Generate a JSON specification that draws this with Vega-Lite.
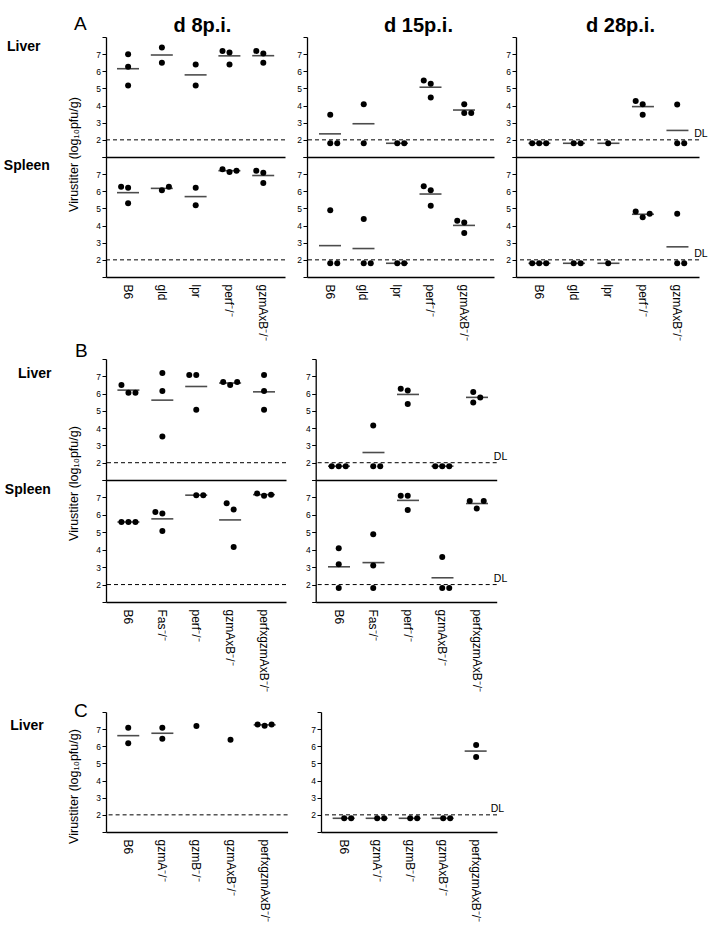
{
  "$schema": "https://vega.github.io/schema/vega-lite/v6.json",
  "padding": {"left": 3, "top": 14, "right": 2, "bottom": 2},
  "background": "#ffffff",
  "config": {
    "font": "Liberation Sans",
    "view": {"stroke": null},
    "title": {"color": "#000", "font": "Liberation Sans"},
    "axis": {"domainColor": "#000", "domainWidth": 1.3, "tickColor": "#000", "tickWidth": 1, "labelColor": "#000", "titleColor": "#000", "grid": false, "labelFont": "Liberation Sans", "titleFont": "Liberation Sans"},
    "axisX": {"ticks": false, "labelAngle": 90, "labelAlign": "left", "labelBaseline": "middle", "labelPadding": 7, "labelFontSize": 12, "labelLimit": 300},
    "axisY": {"tickSize": 4, "labelFontSize": 8.5, "labelPadding": 1.5}
  },
  "datasets": {
    "pts": [
      {"s":"A","d":8,"o":"L","g":"B6","v":7.0,"j":0},
      {"s":"A","d":8,"o":"L","g":"B6","v":6.27,"j":0},
      {"s":"A","d":8,"o":"L","g":"B6","v":5.17,"j":0},
      {"s":"A","d":8,"o":"L","g":"gld","v":7.39,"j":0},
      {"s":"A","d":8,"o":"L","g":"gld","v":6.5,"j":0},
      {"s":"A","d":8,"o":"L","g":"lpr","v":6.4,"j":0},
      {"s":"A","d":8,"o":"L","g":"lpr","v":5.17,"j":0},
      {"s":"A","d":8,"o":"L","g":"perf⁻/⁻","v":7.19,"j":-1},
      {"s":"A","d":8,"o":"L","g":"perf⁻/⁻","v":7.1,"j":0},
      {"s":"A","d":8,"o":"L","g":"perf⁻/⁻","v":6.4,"j":0},
      {"s":"A","d":8,"o":"L","g":"gzmAxB⁻/⁻","v":7.19,"j":-1},
      {"s":"A","d":8,"o":"L","g":"gzmAxB⁻/⁻","v":7.04,"j":0},
      {"s":"A","d":8,"o":"L","g":"gzmAxB⁻/⁻","v":6.5,"j":0},
      {"s":"A","d":8,"o":"S","g":"B6","v":6.27,"j":-1},
      {"s":"A","d":8,"o":"S","g":"B6","v":6.2,"j":0},
      {"s":"A","d":8,"o":"S","g":"B6","v":5.3,"j":0},
      {"s":"A","d":8,"o":"S","g":"gld","v":6.06,"j":0},
      {"s":"A","d":8,"o":"S","g":"gld","v":6.27,"j":1},
      {"s":"A","d":8,"o":"S","g":"lpr","v":6.2,"j":0},
      {"s":"A","d":8,"o":"S","g":"lpr","v":5.18,"j":0},
      {"s":"A","d":8,"o":"S","g":"perf⁻/⁻","v":7.29,"j":-1},
      {"s":"A","d":8,"o":"S","g":"perf⁻/⁻","v":7.12,"j":0},
      {"s":"A","d":8,"o":"S","g":"perf⁻/⁻","v":7.2,"j":1},
      {"s":"A","d":8,"o":"S","g":"gzmAxB⁻/⁻","v":7.2,"j":-1},
      {"s":"A","d":8,"o":"S","g":"gzmAxB⁻/⁻","v":7.08,"j":0},
      {"s":"A","d":8,"o":"S","g":"gzmAxB⁻/⁻","v":6.49,"j":0},
      {"s":"A","d":15,"o":"L","g":"B6","v":3.46,"j":0},
      {"s":"A","d":15,"o":"L","g":"B6","v":1.8,"j":0},
      {"s":"A","d":15,"o":"L","g":"B6","v":1.8,"j":1},
      {"s":"A","d":15,"o":"L","g":"gld","v":4.08,"j":0},
      {"s":"A","d":15,"o":"L","g":"gld","v":1.8,"j":0},
      {"s":"A","d":15,"o":"L","g":"lpr","v":1.8,"j":0},
      {"s":"A","d":15,"o":"L","g":"lpr","v":1.8,"j":1},
      {"s":"A","d":15,"o":"L","g":"perf⁻/⁻","v":5.46,"j":-1},
      {"s":"A","d":15,"o":"L","g":"perf⁻/⁻","v":5.27,"j":0},
      {"s":"A","d":15,"o":"L","g":"perf⁻/⁻","v":4.47,"j":0},
      {"s":"A","d":15,"o":"L","g":"gzmAxB⁻/⁻","v":4.08,"j":0},
      {"s":"A","d":15,"o":"L","g":"gzmAxB⁻/⁻","v":3.57,"j":0},
      {"s":"A","d":15,"o":"L","g":"gzmAxB⁻/⁻","v":3.57,"j":1},
      {"s":"A","d":15,"o":"S","g":"B6","v":4.89,"j":0},
      {"s":"A","d":15,"o":"S","g":"B6","v":1.8,"j":0},
      {"s":"A","d":15,"o":"S","g":"B6","v":1.8,"j":1},
      {"s":"A","d":15,"o":"S","g":"gld","v":4.39,"j":0},
      {"s":"A","d":15,"o":"S","g":"gld","v":1.8,"j":0},
      {"s":"A","d":15,"o":"S","g":"gld","v":1.8,"j":1},
      {"s":"A","d":15,"o":"S","g":"lpr","v":1.8,"j":0},
      {"s":"A","d":15,"o":"S","g":"lpr","v":1.8,"j":1},
      {"s":"A","d":15,"o":"S","g":"perf⁻/⁻","v":6.29,"j":-1},
      {"s":"A","d":15,"o":"S","g":"perf⁻/⁻","v":6.06,"j":0},
      {"s":"A","d":15,"o":"S","g":"perf⁻/⁻","v":5.16,"j":0},
      {"s":"A","d":15,"o":"S","g":"gzmAxB⁻/⁻","v":4.28,"j":-1},
      {"s":"A","d":15,"o":"S","g":"gzmAxB⁻/⁻","v":4.18,"j":0},
      {"s":"A","d":15,"o":"S","g":"gzmAxB⁻/⁻","v":3.57,"j":0},
      {"s":"A","d":28,"o":"L","g":"B6","v":1.8,"j":-1},
      {"s":"A","d":28,"o":"L","g":"B6","v":1.8,"j":0},
      {"s":"A","d":28,"o":"L","g":"B6","v":1.8,"j":1},
      {"s":"A","d":28,"o":"L","g":"gld","v":1.8,"j":0},
      {"s":"A","d":28,"o":"L","g":"gld","v":1.8,"j":1},
      {"s":"A","d":28,"o":"L","g":"lpr","v":1.8,"j":0},
      {"s":"A","d":28,"o":"L","g":"perf⁻/⁻","v":4.27,"j":-1},
      {"s":"A","d":28,"o":"L","g":"perf⁻/⁻","v":4.08,"j":0},
      {"s":"A","d":28,"o":"L","g":"perf⁻/⁻","v":3.47,"j":0},
      {"s":"A","d":28,"o":"L","g":"gzmAxB⁻/⁻","v":4.06,"j":0},
      {"s":"A","d":28,"o":"L","g":"gzmAxB⁻/⁻","v":1.8,"j":0},
      {"s":"A","d":28,"o":"L","g":"gzmAxB⁻/⁻","v":1.8,"j":1},
      {"s":"A","d":28,"o":"S","g":"B6","v":1.8,"j":-1},
      {"s":"A","d":28,"o":"S","g":"B6","v":1.8,"j":0},
      {"s":"A","d":28,"o":"S","g":"B6","v":1.8,"j":1},
      {"s":"A","d":28,"o":"S","g":"gld","v":1.8,"j":0},
      {"s":"A","d":28,"o":"S","g":"gld","v":1.8,"j":1},
      {"s":"A","d":28,"o":"S","g":"lpr","v":1.8,"j":0},
      {"s":"A","d":28,"o":"S","g":"perf⁻/⁻","v":4.82,"j":-1},
      {"s":"A","d":28,"o":"S","g":"perf⁻/⁻","v":4.48,"j":0},
      {"s":"A","d":28,"o":"S","g":"perf⁻/⁻","v":4.69,"j":1},
      {"s":"A","d":28,"o":"S","g":"gzmAxB⁻/⁻","v":4.69,"j":0},
      {"s":"A","d":28,"o":"S","g":"gzmAxB⁻/⁻","v":1.8,"j":0},
      {"s":"A","d":28,"o":"S","g":"gzmAxB⁻/⁻","v":1.8,"j":1},
      {"s":"B","d":8,"o":"L","g":"B6","v":6.5,"j":-1},
      {"s":"B","d":8,"o":"L","g":"B6","v":6.05,"j":0},
      {"s":"B","d":8,"o":"L","g":"B6","v":6.05,"j":1},
      {"s":"B","d":8,"o":"L","g":"Fas⁻/⁻","v":7.19,"j":0},
      {"s":"B","d":8,"o":"L","g":"Fas⁻/⁻","v":6.15,"j":0},
      {"s":"B","d":8,"o":"L","g":"Fas⁻/⁻","v":3.51,"j":0},
      {"s":"B","d":8,"o":"L","g":"perf⁻/⁻","v":7.08,"j":-1},
      {"s":"B","d":8,"o":"L","g":"perf⁻/⁻","v":7.08,"j":0},
      {"s":"B","d":8,"o":"L","g":"perf⁻/⁻","v":5.07,"j":0},
      {"s":"B","d":8,"o":"L","g":"gzmAxB⁻/⁻","v":6.67,"j":-1},
      {"s":"B","d":8,"o":"L","g":"gzmAxB⁻/⁻","v":6.5,"j":0},
      {"s":"B","d":8,"o":"L","g":"gzmAxB⁻/⁻","v":6.67,"j":1},
      {"s":"B","d":8,"o":"L","g":"perfxgzmAxB⁻/⁻","v":7.08,"j":0},
      {"s":"B","d":8,"o":"L","g":"perfxgzmAxB⁻/⁻","v":6.15,"j":0},
      {"s":"B","d":8,"o":"L","g":"perfxgzmAxB⁻/⁻","v":5.07,"j":0},
      {"s":"B","d":8,"o":"S","g":"B6","v":5.59,"j":-1},
      {"s":"B","d":8,"o":"S","g":"B6","v":5.59,"j":0},
      {"s":"B","d":8,"o":"S","g":"B6","v":5.59,"j":1},
      {"s":"B","d":8,"o":"S","g":"Fas⁻/⁻","v":6.16,"j":-1},
      {"s":"B","d":8,"o":"S","g":"Fas⁻/⁻","v":6.08,"j":0},
      {"s":"B","d":8,"o":"S","g":"Fas⁻/⁻","v":5.07,"j":0},
      {"s":"B","d":8,"o":"S","g":"perf⁻/⁻","v":7.13,"j":0},
      {"s":"B","d":8,"o":"S","g":"perf⁻/⁻","v":7.13,"j":1},
      {"s":"B","d":8,"o":"S","g":"gzmAxB⁻/⁻","v":6.66,"j":-0.5},
      {"s":"B","d":8,"o":"S","g":"gzmAxB⁻/⁻","v":6.31,"j":0.5},
      {"s":"B","d":8,"o":"S","g":"gzmAxB⁻/⁻","v":4.16,"j":0.5},
      {"s":"B","d":8,"o":"S","g":"perfxgzmAxB⁻/⁻","v":7.23,"j":-1},
      {"s":"B","d":8,"o":"S","g":"perfxgzmAxB⁻/⁻","v":7.1,"j":0},
      {"s":"B","d":8,"o":"S","g":"perfxgzmAxB⁻/⁻","v":7.15,"j":1},
      {"s":"B","d":15,"o":"L","g":"B6","v":1.8,"j":-1},
      {"s":"B","d":15,"o":"L","g":"B6","v":1.8,"j":0},
      {"s":"B","d":15,"o":"L","g":"B6","v":1.8,"j":1},
      {"s":"B","d":15,"o":"L","g":"Fas⁻/⁻","v":4.16,"j":0},
      {"s":"B","d":15,"o":"L","g":"Fas⁻/⁻","v":1.8,"j":0},
      {"s":"B","d":15,"o":"L","g":"Fas⁻/⁻","v":1.8,"j":1},
      {"s":"B","d":15,"o":"L","g":"perf⁻/⁻","v":6.28,"j":-1},
      {"s":"B","d":15,"o":"L","g":"perf⁻/⁻","v":6.18,"j":0},
      {"s":"B","d":15,"o":"L","g":"perf⁻/⁻","v":5.39,"j":0},
      {"s":"B","d":15,"o":"L","g":"gzmAxB⁻/⁻","v":1.8,"j":-1},
      {"s":"B","d":15,"o":"L","g":"gzmAxB⁻/⁻","v":1.8,"j":0},
      {"s":"B","d":15,"o":"L","g":"gzmAxB⁻/⁻","v":1.8,"j":1},
      {"s":"B","d":15,"o":"L","g":"perfxgzmAxB⁻/⁻","v":6.09,"j":-0.5},
      {"s":"B","d":15,"o":"L","g":"perfxgzmAxB⁻/⁻","v":5.48,"j":-0.5},
      {"s":"B","d":15,"o":"L","g":"perfxgzmAxB⁻/⁻","v":5.77,"j":0.5},
      {"s":"B","d":15,"o":"S","g":"B6","v":4.09,"j":0},
      {"s":"B","d":15,"o":"S","g":"B6","v":3.17,"j":0},
      {"s":"B","d":15,"o":"S","g":"B6","v":1.8,"j":0},
      {"s":"B","d":15,"o":"S","g":"Fas⁻/⁻","v":4.89,"j":0},
      {"s":"B","d":15,"o":"S","g":"Fas⁻/⁻","v":3.1,"j":0},
      {"s":"B","d":15,"o":"S","g":"Fas⁻/⁻","v":1.8,"j":0},
      {"s":"B","d":15,"o":"S","g":"perf⁻/⁻","v":7.1,"j":-1},
      {"s":"B","d":15,"o":"S","g":"perf⁻/⁻","v":7.1,"j":0},
      {"s":"B","d":15,"o":"S","g":"perf⁻/⁻","v":6.28,"j":0},
      {"s":"B","d":15,"o":"S","g":"gzmAxB⁻/⁻","v":3.58,"j":0},
      {"s":"B","d":15,"o":"S","g":"gzmAxB⁻/⁻","v":1.8,"j":0},
      {"s":"B","d":15,"o":"S","g":"gzmAxB⁻/⁻","v":1.8,"j":1},
      {"s":"B","d":15,"o":"S","g":"perfxgzmAxB⁻/⁻","v":6.79,"j":-1},
      {"s":"B","d":15,"o":"S","g":"perfxgzmAxB⁻/⁻","v":6.37,"j":0},
      {"s":"B","d":15,"o":"S","g":"perfxgzmAxB⁻/⁻","v":6.79,"j":1},
      {"s":"C","d":8,"o":"L","g":"B6","v":7.08,"j":0},
      {"s":"C","d":8,"o":"L","g":"B6","v":6.17,"j":0},
      {"s":"C","d":8,"o":"L","g":"gzmA⁻/⁻","v":7.08,"j":0},
      {"s":"C","d":8,"o":"L","g":"gzmA⁻/⁻","v":6.44,"j":0},
      {"s":"C","d":8,"o":"L","g":"gzmB⁻/⁻","v":7.19,"j":0},
      {"s":"C","d":8,"o":"L","g":"gzmAxB⁻/⁻","v":6.38,"j":0},
      {"s":"C","d":8,"o":"L","g":"perfxgzmAxB⁻/⁻","v":7.27,"j":-1},
      {"s":"C","d":8,"o":"L","g":"perfxgzmAxB⁻/⁻","v":7.2,"j":0},
      {"s":"C","d":8,"o":"L","g":"perfxgzmAxB⁻/⁻","v":7.27,"j":1},
      {"s":"C","d":15,"o":"L","g":"B6","v":1.8,"j":0},
      {"s":"C","d":15,"o":"L","g":"B6","v":1.8,"j":1},
      {"s":"C","d":15,"o":"L","g":"gzmA⁻/⁻","v":1.8,"j":0},
      {"s":"C","d":15,"o":"L","g":"gzmA⁻/⁻","v":1.8,"j":1},
      {"s":"C","d":15,"o":"L","g":"gzmB⁻/⁻","v":1.8,"j":0},
      {"s":"C","d":15,"o":"L","g":"gzmB⁻/⁻","v":1.8,"j":1},
      {"s":"C","d":15,"o":"L","g":"gzmAxB⁻/⁻","v":1.8,"j":0},
      {"s":"C","d":15,"o":"L","g":"gzmAxB⁻/⁻","v":1.8,"j":1},
      {"s":"C","d":15,"o":"L","g":"perfxgzmAxB⁻/⁻","v":6.07,"j":0},
      {"s":"C","d":15,"o":"L","g":"perfxgzmAxB⁻/⁻","v":5.37,"j":0}
    ],
    "means": [
      {"s":"A","d":8,"o":"L","g":"B6","v":6.15},
      {"s":"A","d":8,"o":"L","g":"gld","v":6.95},
      {"s":"A","d":8,"o":"L","g":"lpr","v":5.79},
      {"s":"A","d":8,"o":"L","g":"perf⁻/⁻","v":6.9},
      {"s":"A","d":8,"o":"L","g":"gzmAxB⁻/⁻","v":6.91},
      {"s":"A","d":8,"o":"S","g":"B6","v":5.92},
      {"s":"A","d":8,"o":"S","g":"gld","v":6.17},
      {"s":"A","d":8,"o":"S","g":"lpr","v":5.69},
      {"s":"A","d":8,"o":"S","g":"perf⁻/⁻","v":7.2},
      {"s":"A","d":8,"o":"S","g":"gzmAxB⁻/⁻","v":6.92},
      {"s":"A","d":15,"o":"L","g":"B6","v":2.35},
      {"s":"A","d":15,"o":"L","g":"gld","v":2.94},
      {"s":"A","d":15,"o":"L","g":"lpr","v":1.8},
      {"s":"A","d":15,"o":"L","g":"perf⁻/⁻","v":5.07},
      {"s":"A","d":15,"o":"L","g":"gzmAxB⁻/⁻","v":3.74},
      {"s":"A","d":15,"o":"S","g":"B6","v":2.83},
      {"s":"A","d":15,"o":"S","g":"gld","v":2.66},
      {"s":"A","d":15,"o":"S","g":"lpr","v":1.8},
      {"s":"A","d":15,"o":"S","g":"perf⁻/⁻","v":5.84},
      {"s":"A","d":15,"o":"S","g":"gzmAxB⁻/⁻","v":4.01},
      {"s":"A","d":28,"o":"L","g":"B6","v":1.8},
      {"s":"A","d":28,"o":"L","g":"gld","v":1.8},
      {"s":"A","d":28,"o":"L","g":"lpr","v":1.8},
      {"s":"A","d":28,"o":"L","g":"perf⁻/⁻","v":3.94},
      {"s":"A","d":28,"o":"L","g":"gzmAxB⁻/⁻","v":2.55},
      {"s":"A","d":28,"o":"S","g":"B6","v":1.8},
      {"s":"A","d":28,"o":"S","g":"gld","v":1.8},
      {"s":"A","d":28,"o":"S","g":"lpr","v":1.8},
      {"s":"A","d":28,"o":"S","g":"perf⁻/⁻","v":4.66},
      {"s":"A","d":28,"o":"S","g":"gzmAxB⁻/⁻","v":2.76},
      {"s":"B","d":8,"o":"L","g":"B6","v":6.2},
      {"s":"B","d":8,"o":"L","g":"Fas⁻/⁻","v":5.62},
      {"s":"B","d":8,"o":"L","g":"perf⁻/⁻","v":6.41},
      {"s":"B","d":8,"o":"L","g":"gzmAxB⁻/⁻","v":6.61},
      {"s":"B","d":8,"o":"L","g":"perfxgzmAxB⁻/⁻","v":6.1},
      {"s":"B","d":8,"o":"S","g":"B6","v":5.59},
      {"s":"B","d":8,"o":"S","g":"Fas⁻/⁻","v":5.77},
      {"s":"B","d":8,"o":"S","g":"perf⁻/⁻","v":7.13},
      {"s":"B","d":8,"o":"S","g":"gzmAxB⁻/⁻","v":5.71},
      {"s":"B","d":8,"o":"S","g":"perfxgzmAxB⁻/⁻","v":7.16},
      {"s":"B","d":15,"o":"L","g":"B6","v":1.8},
      {"s":"B","d":15,"o":"L","g":"Fas⁻/⁻","v":2.59},
      {"s":"B","d":15,"o":"L","g":"perf⁻/⁻","v":5.95},
      {"s":"B","d":15,"o":"L","g":"gzmAxB⁻/⁻","v":1.8},
      {"s":"B","d":15,"o":"L","g":"perfxgzmAxB⁻/⁻","v":5.78},
      {"s":"B","d":15,"o":"S","g":"B6","v":3.02},
      {"s":"B","d":15,"o":"S","g":"Fas⁻/⁻","v":3.26},
      {"s":"B","d":15,"o":"S","g":"perf⁻/⁻","v":6.83},
      {"s":"B","d":15,"o":"S","g":"gzmAxB⁻/⁻","v":2.39},
      {"s":"B","d":15,"o":"S","g":"perfxgzmAxB⁻/⁻","v":6.65},
      {"s":"C","d":8,"o":"L","g":"B6","v":6.62},
      {"s":"C","d":8,"o":"L","g":"gzmA⁻/⁻","v":6.76},
      {"s":"C","d":8,"o":"L","g":"perfxgzmAxB⁻/⁻","v":7.25},
      {"s":"C","d":15,"o":"L","g":"B6","v":1.8},
      {"s":"C","d":15,"o":"L","g":"gzmA⁻/⁻","v":1.8},
      {"s":"C","d":15,"o":"L","g":"gzmB⁻/⁻","v":1.8},
      {"s":"C","d":15,"o":"L","g":"gzmAxB⁻/⁻","v":1.8},
      {"s":"C","d":15,"o":"L","g":"perfxgzmAxB⁻/⁻","v":5.72}
    ],
    "dl": [
      {"s":"A","d":8,"o":"L","g":"gzmAxB⁻/⁻","v":2},
      {"s":"A","d":8,"o":"S","g":"gzmAxB⁻/⁻","v":2},
      {"s":"A","d":15,"o":"L","g":"gzmAxB⁻/⁻","v":2},
      {"s":"A","d":15,"o":"S","g":"gzmAxB⁻/⁻","v":2},
      {"s":"A","d":28,"o":"L","g":"gzmAxB⁻/⁻","v":2},
      {"s":"A","d":28,"o":"S","g":"gzmAxB⁻/⁻","v":2},
      {"s":"B","d":8,"o":"L","g":"perfxgzmAxB⁻/⁻","v":2},
      {"s":"B","d":8,"o":"S","g":"perfxgzmAxB⁻/⁻","v":2},
      {"s":"B","d":15,"o":"L","g":"perfxgzmAxB⁻/⁻","v":2},
      {"s":"B","d":15,"o":"S","g":"perfxgzmAxB⁻/⁻","v":2},
      {"s":"C","d":8,"o":"L","g":"perfxgzmAxB⁻/⁻","v":2},
      {"s":"C","d":15,"o":"L","g":"perfxgzmAxB⁻/⁻","v":2}
    ]
  },
  "vconcat": [
    {
      "title": {"text": "A", "anchor": "start", "frame": "group", "fontSize": 19, "fontWeight": "normal", "offset": 0, "dx": -32, "dy": 18},
      "columns": 3,
      "spacing": {"row": 0, "column": 22},
      "bounds": "flush",
      "align": "each",
      "concat": [
        {
          "width": 179, "height": 120,
          "title": {"text": "d 8p.i.", "fontSize": 20, "fontWeight": "bold", "anchor": "middle", "frame": "group", "dx": 7, "offset": 1},
          "encoding": {"y": {"field": "v", "type": "quantitative", "scale": {"domain": [1, 8], "nice": false, "zero": false}, "axis": {"values": [1,2,3,4,5,6,7,8], "labelExpr": "datum.value>=2&&datum.value<=7?datum.label:''", "title": "Liver", "titleAngle": 0, "titleAlign": "right", "titleBaseline": "top", "titleX": -66, "titleY": 2.5, "titleFontSize": 14, "titleFontWeight": "bold"}}},
          "layer": [
            {"data": {"name": "dl"}, "transform": [{"filter": "datum.s=='A'&&datum.d==8&&datum.o=='L'"}], "mark": {"type": "rule", "strokeDash": [4, 3], "strokeWidth": 1, "color": "#000"}, "encoding": {}},
            {"data": {"name": "means"}, "transform": [{"filter": "datum.s=='A'&&datum.d==8&&datum.o=='L'"}], "mark": {"type": "tick", "orient": "horizontal", "size": 22, "thickness": 1.6, "color": "#000"}, "encoding": {"x": {"field": "g", "type": "nominal", "scale": {"type": "band", "domain": ["B6","gld","lpr","perf⁻/⁻","gzmAxB⁻/⁻"], "paddingInner": 0, "paddingOuter": 0.148, "align": 0.51}, "axis": {"labels": false, "title": null}}}},
            {"data": {"name": "pts"}, "transform": [{"filter": "datum.s=='A'&&datum.d==8&&datum.o=='L'"}], "mark": {"type": "circle", "size": 36, "color": "#000", "opacity": 1}, "encoding": {"x": {"field": "g", "type": "nominal", "scale": {"type": "band", "domain": ["B6","gld","lpr","perf⁻/⁻","gzmAxB⁻/⁻"], "paddingInner": 0, "paddingOuter": 0.148, "align": 0.51}, "axis": {"labels": false, "title": null}}, "xOffset": {"field": "j", "type": "quantitative", "scale": {"domain": [-1, 1], "range": [10, 24]}}}}
          ]
        },
        {
          "width": 187, "height": 120,
          "title": {"text": "d 15p.i.", "fontSize": 20, "fontWeight": "bold", "anchor": "middle", "frame": "group", "dx": 18, "offset": 1},
          "encoding": {"y": {"field": "v", "type": "quantitative", "scale": {"domain": [1, 8], "nice": false, "zero": false}, "axis": {"values": [1,2,3,4,5,6,7,8], "labelExpr": "datum.value>=2&&datum.value<=7?datum.label:''", "title": null}}},
          "layer": [
            {"data": {"name": "dl"}, "transform": [{"filter": "datum.s=='A'&&datum.d==15&&datum.o=='L'"}], "mark": {"type": "rule", "strokeDash": [4, 3], "strokeWidth": 1, "color": "#000"}, "encoding": {}},
            {"data": {"name": "means"}, "transform": [{"filter": "datum.s=='A'&&datum.d==15&&datum.o=='L'"}], "mark": {"type": "tick", "orient": "horizontal", "size": 22, "thickness": 1.6, "color": "#000"}, "encoding": {"x": {"field": "g", "type": "nominal", "scale": {"type": "band", "domain": ["B6","gld","lpr","perf⁻/⁻","gzmAxB⁻/⁻"], "paddingInner": 0, "paddingOuter": 0.291, "align": 0.32}, "axis": {"labels": false, "title": null}}}},
            {"data": {"name": "pts"}, "transform": [{"filter": "datum.s=='A'&&datum.d==15&&datum.o=='L'"}], "mark": {"type": "circle", "size": 36, "color": "#000", "opacity": 1}, "encoding": {"x": {"field": "g", "type": "nominal", "scale": {"type": "band", "domain": ["B6","gld","lpr","perf⁻/⁻","gzmAxB⁻/⁻"], "paddingInner": 0, "paddingOuter": 0.291, "align": 0.32}, "axis": {"labels": false, "title": null}}, "xOffset": {"field": "j", "type": "quantitative", "scale": {"domain": [-1, 1], "range": [10, 24]}}}}
          ]
        },
        {
          "width": 183, "height": 120,
          "title": {"text": "d 28p.i.", "fontSize": 20, "fontWeight": "bold", "anchor": "middle", "frame": "group", "dx": 13, "offset": 1},
          "encoding": {"y": {"field": "v", "type": "quantitative", "scale": {"domain": [1, 8], "nice": false, "zero": false}, "axis": {"values": [1,2,3,4,5,6,7,8], "labelExpr": "datum.value>=2&&datum.value<=7?datum.label:''", "title": null}}},
          "layer": [
            {"data": {"name": "dl"}, "transform": [{"filter": "datum.s=='A'&&datum.d==28&&datum.o=='L'"}], "mark": {"type": "rule", "strokeDash": [4, 3], "strokeWidth": 1, "color": "#000"}, "encoding": {}},
            {"data": {"name": "dl"}, "transform": [{"filter": "datum.s=='A'&&datum.d==28&&datum.o=='L'"}], "mark": {"type": "text", "align": "right", "baseline": "bottom", "dx": 13, "dy": -0.5, "fontSize": 10.5, "color": "#000"}, "encoding": {"text": {"value": "DL"}, "x": {"field": "g", "type": "nominal", "bandPosition": 1, "scale": {"type": "band", "domain": ["B6","gld","lpr","perf⁻/⁻","gzmAxB⁻/⁻"], "paddingInner": 0, "paddingOuter": 0.152, "align": 0.59}, "axis": {"labels": false, "title": null}}}},
            {"data": {"name": "means"}, "transform": [{"filter": "datum.s=='A'&&datum.d==28&&datum.o=='L'"}], "mark": {"type": "tick", "orient": "horizontal", "size": 22, "thickness": 1.6, "color": "#000"}, "encoding": {"x": {"field": "g", "type": "nominal", "scale": {"type": "band", "domain": ["B6","gld","lpr","perf⁻/⁻","gzmAxB⁻/⁻"], "paddingInner": 0, "paddingOuter": 0.152, "align": 0.59}, "axis": {"labels": false, "title": null}}}},
            {"data": {"name": "pts"}, "transform": [{"filter": "datum.s=='A'&&datum.d==28&&datum.o=='L'"}], "mark": {"type": "circle", "size": 36, "color": "#000", "opacity": 1}, "encoding": {"x": {"field": "g", "type": "nominal", "scale": {"type": "band", "domain": ["B6","gld","lpr","perf⁻/⁻","gzmAxB⁻/⁻"], "paddingInner": 0, "paddingOuter": 0.152, "align": 0.59}, "axis": {"labels": false, "title": null}}, "xOffset": {"field": "j", "type": "quantitative", "scale": {"domain": [-1, 1], "range": [10, 24]}}}}
          ]
        },
        {
          "width": 179, "height": 120,
          "title": {"text": "Spleen", "orient": "left", "anchor": "end", "frame": "group", "angle": 0, "align": "left", "baseline": "top", "fontSize": 14, "fontWeight": "bold", "offset": 18, "dy": 1.5},
          "encoding": {"y": {"field": "v", "type": "quantitative", "scale": {"domain": [1, 8], "nice": false, "zero": false}, "axis": {"values": [1,2,3,4,5,6,7,8], "labelExpr": "datum.value>=2&&datum.value<=7?datum.label:''", "title": "Virustiter (log₁₀pfu/g)", "titleFontSize": 12.5, "titleFontWeight": "normal", "titlePadding": 15, "titleY": -3}}},
          "layer": [
            {"data": {"name": "dl"}, "transform": [{"filter": "datum.s=='A'&&datum.d==8&&datum.o=='S'"}], "mark": {"type": "rule", "strokeDash": [4, 3], "strokeWidth": 1, "color": "#000"}, "encoding": {}},
            {"data": {"name": "means"}, "transform": [{"filter": "datum.s=='A'&&datum.d==8&&datum.o=='S'"}], "mark": {"type": "tick", "orient": "horizontal", "size": 22, "thickness": 1.6, "color": "#000"}, "encoding": {"x": {"field": "g", "type": "nominal", "scale": {"type": "band", "domain": ["B6","gld","lpr","perf⁻/⁻","gzmAxB⁻/⁻"], "paddingInner": 0, "paddingOuter": 0.148, "align": 0.51}, "axis": {"title": null}}}},
            {"data": {"name": "pts"}, "transform": [{"filter": "datum.s=='A'&&datum.d==8&&datum.o=='S'"}], "mark": {"type": "circle", "size": 36, "color": "#000", "opacity": 1}, "encoding": {"x": {"field": "g", "type": "nominal", "scale": {"type": "band", "domain": ["B6","gld","lpr","perf⁻/⁻","gzmAxB⁻/⁻"], "paddingInner": 0, "paddingOuter": 0.148, "align": 0.51}, "axis": {"title": null}}, "xOffset": {"field": "j", "type": "quantitative", "scale": {"domain": [-1, 1], "range": [10, 24]}}}}
          ]
        },
        {
          "width": 187, "height": 120,
          "encoding": {"y": {"field": "v", "type": "quantitative", "scale": {"domain": [1, 8], "nice": false, "zero": false}, "axis": {"values": [1,2,3,4,5,6,7,8], "labelExpr": "datum.value>=2&&datum.value<=7?datum.label:''", "title": null}}},
          "layer": [
            {"data": {"name": "dl"}, "transform": [{"filter": "datum.s=='A'&&datum.d==15&&datum.o=='S'"}], "mark": {"type": "rule", "strokeDash": [4, 3], "strokeWidth": 1, "color": "#000"}, "encoding": {}},
            {"data": {"name": "means"}, "transform": [{"filter": "datum.s=='A'&&datum.d==15&&datum.o=='S'"}], "mark": {"type": "tick", "orient": "horizontal", "size": 22, "thickness": 1.6, "color": "#000"}, "encoding": {"x": {"field": "g", "type": "nominal", "scale": {"type": "band", "domain": ["B6","gld","lpr","perf⁻/⁻","gzmAxB⁻/⁻"], "paddingInner": 0, "paddingOuter": 0.291, "align": 0.32}, "axis": {"title": null}}}},
            {"data": {"name": "pts"}, "transform": [{"filter": "datum.s=='A'&&datum.d==15&&datum.o=='S'"}], "mark": {"type": "circle", "size": 36, "color": "#000", "opacity": 1}, "encoding": {"x": {"field": "g", "type": "nominal", "scale": {"type": "band", "domain": ["B6","gld","lpr","perf⁻/⁻","gzmAxB⁻/⁻"], "paddingInner": 0, "paddingOuter": 0.291, "align": 0.32}, "axis": {"title": null}}, "xOffset": {"field": "j", "type": "quantitative", "scale": {"domain": [-1, 1], "range": [10, 24]}}}}
          ]
        },
        {
          "width": 183, "height": 120,
          "encoding": {"y": {"field": "v", "type": "quantitative", "scale": {"domain": [1, 8], "nice": false, "zero": false}, "axis": {"values": [1,2,3,4,5,6,7,8], "labelExpr": "datum.value>=2&&datum.value<=7?datum.label:''", "title": null}}},
          "layer": [
            {"data": {"name": "dl"}, "transform": [{"filter": "datum.s=='A'&&datum.d==28&&datum.o=='S'"}], "mark": {"type": "rule", "strokeDash": [4, 3], "strokeWidth": 1, "color": "#000"}, "encoding": {}},
            {"data": {"name": "dl"}, "transform": [{"filter": "datum.s=='A'&&datum.d==28&&datum.o=='S'"}], "mark": {"type": "text", "align": "right", "baseline": "bottom", "dx": 13, "dy": -0.5, "fontSize": 10.5, "color": "#000"}, "encoding": {"text": {"value": "DL"}, "x": {"field": "g", "type": "nominal", "bandPosition": 1, "scale": {"type": "band", "domain": ["B6","gld","lpr","perf⁻/⁻","gzmAxB⁻/⁻"], "paddingInner": 0, "paddingOuter": 0.152, "align": 0.59}, "axis": {"title": null}}}},
            {"data": {"name": "means"}, "transform": [{"filter": "datum.s=='A'&&datum.d==28&&datum.o=='S'"}], "mark": {"type": "tick", "orient": "horizontal", "size": 22, "thickness": 1.6, "color": "#000"}, "encoding": {"x": {"field": "g", "type": "nominal", "scale": {"type": "band", "domain": ["B6","gld","lpr","perf⁻/⁻","gzmAxB⁻/⁻"], "paddingInner": 0, "paddingOuter": 0.152, "align": 0.59}, "axis": {"title": null}}}},
            {"data": {"name": "pts"}, "transform": [{"filter": "datum.s=='A'&&datum.d==28&&datum.o=='S'"}], "mark": {"type": "circle", "size": 36, "color": "#000", "opacity": 1}, "encoding": {"x": {"field": "g", "type": "nominal", "scale": {"type": "band", "domain": ["B6","gld","lpr","perf⁻/⁻","gzmAxB⁻/⁻"], "paddingInner": 0, "paddingOuter": 0.152, "align": 0.59}, "axis": {"title": null}}, "xOffset": {"field": "j", "type": "quantitative", "scale": {"domain": [-1, 1], "range": [10, 24]}}}}
          ]
        }
      ]
    },
    {
      "spacing": 9,
      "vconcat": [
        {
          "columns": 2,
          "spacing": {"row": 0, "column": 29.7},
          "bounds": "flush",
          "align": "each",
          "concat": [
            {
              "width": 180, "height": 121,
              "title": {"text": "B", "anchor": "start", "frame": "group", "fontSize": 19, "fontWeight": "normal", "offset": -2, "dx": -31},
              "encoding": {"y": {"field": "v", "type": "quantitative", "scale": {"domain": [1, 8], "nice": false, "zero": false}, "axis": {"values": [1,2,3,4,5,6,7,8], "labelExpr": "datum.value>=2&&datum.value<=7?datum.label:''", "title": "Liver", "titleAngle": 0, "titleAlign": "right", "titleBaseline": "top", "titleX": -55, "titleY": 7, "titleFontSize": 14, "titleFontWeight": "bold"}}},
              "layer": [
                {"data": {"name": "dl"}, "transform": [{"filter": "datum.s=='B'&&datum.d==8&&datum.o=='L'"}], "mark": {"type": "rule", "strokeDash": [4, 3], "strokeWidth": 1, "color": "#000"}, "encoding": {}},
                {"data": {"name": "means"}, "transform": [{"filter": "datum.s=='B'&&datum.d==8&&datum.o=='L'"}], "mark": {"type": "tick", "orient": "horizontal", "size": 22, "thickness": 1.6, "color": "#000"}, "encoding": {"x": {"field": "g", "type": "nominal", "scale": {"type": "band", "domain": ["B6","Fas⁻/⁻","perf⁻/⁻","gzmAxB⁻/⁻","perfxgzmAxB⁻/⁻"], "paddingInner": 0, "paddingOuter": 0.155, "align": 0.52}, "axis": {"labels": false, "title": null}}}},
                {"data": {"name": "pts"}, "transform": [{"filter": "datum.s=='B'&&datum.d==8&&datum.o=='L'"}], "mark": {"type": "circle", "size": 36, "color": "#000", "opacity": 1}, "encoding": {"x": {"field": "g", "type": "nominal", "scale": {"type": "band", "domain": ["B6","Fas⁻/⁻","perf⁻/⁻","gzmAxB⁻/⁻","perfxgzmAxB⁻/⁻"], "paddingInner": 0, "paddingOuter": 0.155, "align": 0.52}, "axis": {"labels": false, "title": null}}, "xOffset": {"field": "j", "type": "quantitative", "scale": {"domain": [-1, 1], "range": [10, 24]}}}}
              ]
            },
            {
              "width": 181, "height": 121,
              "encoding": {"y": {"field": "v", "type": "quantitative", "scale": {"domain": [1, 8], "nice": false, "zero": false}, "axis": {"values": [1,2,3,4,5,6,7,8], "labelExpr": "datum.value>=2&&datum.value<=7?datum.label:''", "title": null}}},
              "layer": [
                {"data": {"name": "dl"}, "transform": [{"filter": "datum.s=='B'&&datum.d==15&&datum.o=='L'"}], "mark": {"type": "rule", "strokeDash": [4, 3], "strokeWidth": 1, "color": "#000"}, "encoding": {}},
                {"data": {"name": "dl"}, "transform": [{"filter": "datum.s=='B'&&datum.d==15&&datum.o=='L'"}], "mark": {"type": "text", "align": "right", "baseline": "bottom", "dx": 13, "dy": -0.5, "fontSize": 10.5, "color": "#000"}, "encoding": {"text": {"value": "DL"}, "x": {"field": "g", "type": "nominal", "bandPosition": 1, "scale": {"type": "band", "domain": ["B6","Fas⁻/⁻","perf⁻/⁻","gzmAxB⁻/⁻","perfxgzmAxB⁻/⁻"], "paddingInner": 0, "paddingOuter": 0.123, "align": 0.71}, "axis": {"labels": false, "title": null}}}},
                {"data": {"name": "means"}, "transform": [{"filter": "datum.s=='B'&&datum.d==15&&datum.o=='L'"}], "mark": {"type": "tick", "orient": "horizontal", "size": 22, "thickness": 1.6, "color": "#000"}, "encoding": {"x": {"field": "g", "type": "nominal", "scale": {"type": "band", "domain": ["B6","Fas⁻/⁻","perf⁻/⁻","gzmAxB⁻/⁻","perfxgzmAxB⁻/⁻"], "paddingInner": 0, "paddingOuter": 0.123, "align": 0.71}, "axis": {"labels": false, "title": null}}}},
                {"data": {"name": "pts"}, "transform": [{"filter": "datum.s=='B'&&datum.d==15&&datum.o=='L'"}], "mark": {"type": "circle", "size": 36, "color": "#000", "opacity": 1}, "encoding": {"x": {"field": "g", "type": "nominal", "scale": {"type": "band", "domain": ["B6","Fas⁻/⁻","perf⁻/⁻","gzmAxB⁻/⁻","perfxgzmAxB⁻/⁻"], "paddingInner": 0, "paddingOuter": 0.123, "align": 0.71}, "axis": {"labels": false, "title": null}}, "xOffset": {"field": "j", "type": "quantitative", "scale": {"domain": [-1, 1], "range": [10, 24]}}}}
              ]
            },
            {
              "width": 180, "height": 122,
              "title": {"text": "Spleen", "orient": "left", "anchor": "end", "frame": "group", "angle": 0, "align": "left", "baseline": "top", "fontSize": 14, "fontWeight": "bold", "offset": 17, "dy": 3.4},
              "encoding": {"y": {"field": "v", "type": "quantitative", "scale": {"domain": [1, 8], "nice": false, "zero": false}, "axis": {"values": [1,2,3,4,5,6,7,8], "labelExpr": "datum.value>=2&&datum.value<=7?datum.label:''", "title": "Virustiter (log₁₀pfu/g)", "titleFontSize": 12.5, "titleFontWeight": "normal", "titlePadding": 15, "titleY": 3}}},
              "layer": [
                {"data": {"name": "dl"}, "transform": [{"filter": "datum.s=='B'&&datum.d==8&&datum.o=='S'"}], "mark": {"type": "rule", "strokeDash": [4, 3], "strokeWidth": 1, "color": "#000"}, "encoding": {}},
                {"data": {"name": "means"}, "transform": [{"filter": "datum.s=='B'&&datum.d==8&&datum.o=='S'"}], "mark": {"type": "tick", "orient": "horizontal", "size": 22, "thickness": 1.6, "color": "#000"}, "encoding": {"x": {"field": "g", "type": "nominal", "scale": {"type": "band", "domain": ["B6","Fas⁻/⁻","perf⁻/⁻","gzmAxB⁻/⁻","perfxgzmAxB⁻/⁻"], "paddingInner": 0, "paddingOuter": 0.155, "align": 0.52}, "axis": {"title": null}}}},
                {"data": {"name": "pts"}, "transform": [{"filter": "datum.s=='B'&&datum.d==8&&datum.o=='S'"}], "mark": {"type": "circle", "size": 36, "color": "#000", "opacity": 1}, "encoding": {"x": {"field": "g", "type": "nominal", "scale": {"type": "band", "domain": ["B6","Fas⁻/⁻","perf⁻/⁻","gzmAxB⁻/⁻","perfxgzmAxB⁻/⁻"], "paddingInner": 0, "paddingOuter": 0.155, "align": 0.52}, "axis": {"title": null}}, "xOffset": {"field": "j", "type": "quantitative", "scale": {"domain": [-1, 1], "range": [10, 24]}}}}
              ]
            },
            {
              "width": 181, "height": 122,
              "encoding": {"y": {"field": "v", "type": "quantitative", "scale": {"domain": [1, 8], "nice": false, "zero": false}, "axis": {"values": [1,2,3,4,5,6,7,8], "labelExpr": "datum.value>=2&&datum.value<=7?datum.label:''", "title": null}}},
              "layer": [
                {"data": {"name": "dl"}, "transform": [{"filter": "datum.s=='B'&&datum.d==15&&datum.o=='S'"}], "mark": {"type": "rule", "strokeDash": [4, 3], "strokeWidth": 1, "color": "#000"}, "encoding": {}},
                {"data": {"name": "dl"}, "transform": [{"filter": "datum.s=='B'&&datum.d==15&&datum.o=='S'"}], "mark": {"type": "text", "align": "right", "baseline": "bottom", "dx": 13, "dy": -0.5, "fontSize": 10.5, "color": "#000"}, "encoding": {"text": {"value": "DL"}, "x": {"field": "g", "type": "nominal", "bandPosition": 1, "scale": {"type": "band", "domain": ["B6","Fas⁻/⁻","perf⁻/⁻","gzmAxB⁻/⁻","perfxgzmAxB⁻/⁻"], "paddingInner": 0, "paddingOuter": 0.123, "align": 0.71}, "axis": {"title": null}}}},
                {"data": {"name": "means"}, "transform": [{"filter": "datum.s=='B'&&datum.d==15&&datum.o=='S'"}], "mark": {"type": "tick", "orient": "horizontal", "size": 22, "thickness": 1.6, "color": "#000"}, "encoding": {"x": {"field": "g", "type": "nominal", "scale": {"type": "band", "domain": ["B6","Fas⁻/⁻","perf⁻/⁻","gzmAxB⁻/⁻","perfxgzmAxB⁻/⁻"], "paddingInner": 0, "paddingOuter": 0.123, "align": 0.71}, "axis": {"title": null}}}},
                {"data": {"name": "pts"}, "transform": [{"filter": "datum.s=='B'&&datum.d==15&&datum.o=='S'"}], "mark": {"type": "circle", "size": 36, "color": "#000", "opacity": 1}, "encoding": {"x": {"field": "g", "type": "nominal", "scale": {"type": "band", "domain": ["B6","Fas⁻/⁻","perf⁻/⁻","gzmAxB⁻/⁻","perfxgzmAxB⁻/⁻"], "paddingInner": 0, "paddingOuter": 0.123, "align": 0.71}, "axis": {"title": null}}, "xOffset": {"field": "j", "type": "quantitative", "scale": {"domain": [-1, 1], "range": [10, 24]}}}}
              ]
            }
          ]
        },
        {
          "title": {"text": "C", "anchor": "start", "frame": "group", "fontSize": 19, "fontWeight": "normal", "offset": -9, "dx": -32},
          "columns": 2,
          "spacing": {"row": 0, "column": 33},
          "bounds": "flush",
          "align": "each",
          "concat": [
            {
              "width": 181.6, "height": 120,
              "title": {"text": "Liver", "orient": "left", "anchor": "end", "frame": "group", "angle": 0, "align": "left", "baseline": "top", "fontSize": 14, "fontWeight": "bold", "offset": 24, "dy": 7},
              "encoding": {"y": {"field": "v", "type": "quantitative", "scale": {"domain": [1, 8], "nice": false, "zero": false}, "axis": {"values": [1,2,3,4,5,6,7,8], "labelExpr": "datum.value>=2&&datum.value<=7?datum.label:''", "title": "Virustiter (log₁₀pfu/g)", "titleFontSize": 12.5, "titleFontWeight": "normal", "titlePadding": 15, "titleY": 74}}},
              "layer": [
                {"data": {"name": "dl"}, "transform": [{"filter": "datum.s=='C'&&datum.d==8&&datum.o=='L'"}], "mark": {"type": "rule", "strokeDash": [4, 3], "strokeWidth": 1, "color": "#000"}, "encoding": {}},
                {"data": {"name": "means"}, "transform": [{"filter": "datum.s=='C'&&datum.d==8&&datum.o=='L'"}], "mark": {"type": "tick", "orient": "horizontal", "size": 22, "thickness": 1.6, "color": "#000"}, "encoding": {"x": {"field": "g", "type": "nominal", "scale": {"type": "band", "domain": ["B6","gzmA⁻/⁻","gzmB⁻/⁻","gzmAxB⁻/⁻","perfxgzmAxB⁻/⁻"], "paddingInner": 0, "paddingOuter": 0.163, "align": 0.47}, "axis": {"title": null}}}},
                {"data": {"name": "pts"}, "transform": [{"filter": "datum.s=='C'&&datum.d==8&&datum.o=='L'"}], "mark": {"type": "circle", "size": 36, "color": "#000", "opacity": 1}, "encoding": {"x": {"field": "g", "type": "nominal", "scale": {"type": "band", "domain": ["B6","gzmA⁻/⁻","gzmB⁻/⁻","gzmAxB⁻/⁻","perfxgzmAxB⁻/⁻"], "paddingInner": 0, "paddingOuter": 0.163, "align": 0.47}, "axis": {"title": null}}, "xOffset": {"field": "j", "type": "quantitative", "scale": {"domain": [-1, 1], "range": [10, 24]}}}}
              ]
            },
            {
              "width": 176, "height": 120,
              "encoding": {"y": {"field": "v", "type": "quantitative", "scale": {"domain": [1, 8], "nice": false, "zero": false}, "axis": {"values": [1,2,3,4,5,6,7,8], "labelExpr": "datum.value>=2&&datum.value<=7?datum.label:''", "title": null}}},
              "layer": [
                {"data": {"name": "dl"}, "transform": [{"filter": "datum.s=='C'&&datum.d==15&&datum.o=='L'"}], "mark": {"type": "rule", "strokeDash": [4, 3], "strokeWidth": 1, "color": "#000"}, "encoding": {}},
                {"data": {"name": "dl"}, "transform": [{"filter": "datum.s=='C'&&datum.d==15&&datum.o=='L'"}], "mark": {"type": "text", "align": "right", "baseline": "bottom", "dx": 12, "dy": -0.5, "fontSize": 10.5, "color": "#000"}, "encoding": {"text": {"value": "DL"}, "x": {"field": "g", "type": "nominal", "bandPosition": 1, "scale": {"type": "band", "domain": ["B6","gzmA⁻/⁻","gzmB⁻/⁻","gzmAxB⁻/⁻","perfxgzmAxB⁻/⁻"], "paddingInner": 0, "paddingOuter": 0.167, "align": 0.56}, "axis": {"title": null}}}},
                {"data": {"name": "means"}, "transform": [{"filter": "datum.s=='C'&&datum.d==15&&datum.o=='L'"}], "mark": {"type": "tick", "orient": "horizontal", "size": 22, "thickness": 1.6, "color": "#000"}, "encoding": {"x": {"field": "g", "type": "nominal", "scale": {"type": "band", "domain": ["B6","gzmA⁻/⁻","gzmB⁻/⁻","gzmAxB⁻/⁻","perfxgzmAxB⁻/⁻"], "paddingInner": 0, "paddingOuter": 0.167, "align": 0.56}, "axis": {"title": null}}}},
                {"data": {"name": "pts"}, "transform": [{"filter": "datum.s=='C'&&datum.d==15&&datum.o=='L'"}], "mark": {"type": "circle", "size": 36, "color": "#000", "opacity": 1}, "encoding": {"x": {"field": "g", "type": "nominal", "scale": {"type": "band", "domain": ["B6","gzmA⁻/⁻","gzmB⁻/⁻","gzmAxB⁻/⁻","perfxgzmAxB⁻/⁻"], "paddingInner": 0, "paddingOuter": 0.167, "align": 0.56}, "axis": {"title": null}}, "xOffset": {"field": "j", "type": "quantitative", "scale": {"domain": [-1, 1], "range": [10, 24]}}}}
              ]
            }
          ]
        }
      ]
    }
  ],
  "spacing": 0
}
